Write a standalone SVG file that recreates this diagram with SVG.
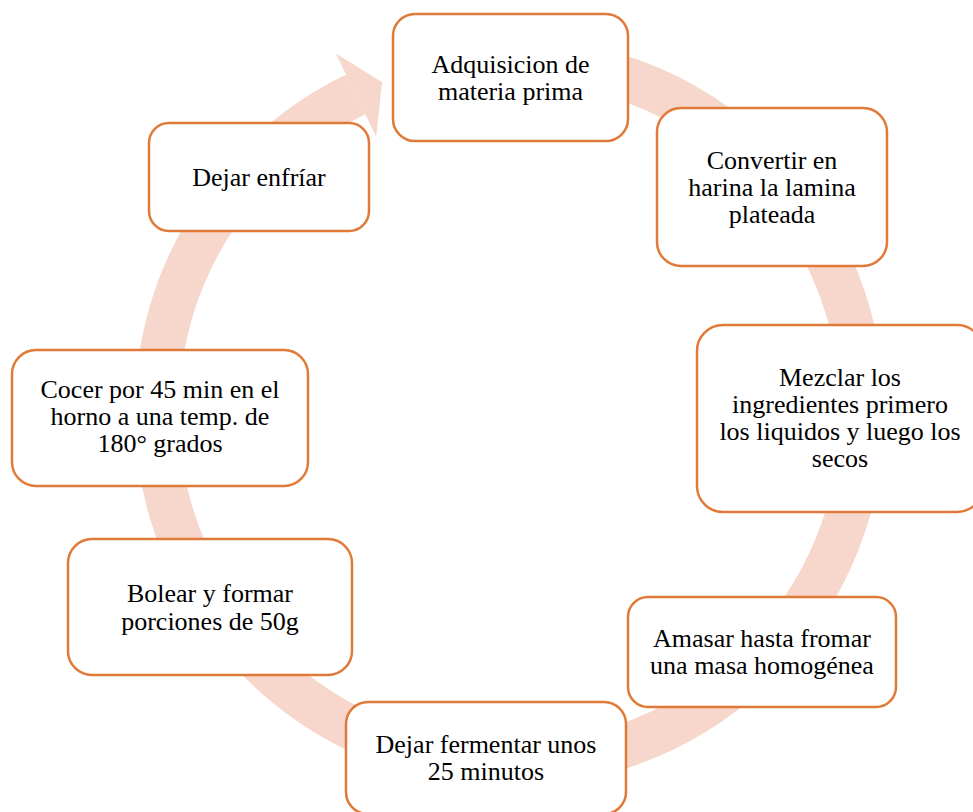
<svg xmlns="http://www.w3.org/2000/svg" width="973" height="812" viewBox="0 0 973 812">
<style>
.box{fill:#ffffff;stroke:#E07A38;stroke-width:2.5}
.t{font-family:"Liberation Serif","Times New Roman",serif;font-size:26px;fill:#000000;text-anchor:middle}
.ring{fill:none;stroke:#F7D7CB;stroke-width:44;stroke-linecap:butt}
</style>
<rect width="973" height="812" fill="#ffffff"/>
<g id="connectors">
<path class="ring" d="M 448.7 64.4 A 353 353 0 1 1 355.8 94.4"/>
<polygon points="335.9,53.6 382.1,82.3 376.1,136.4" fill="#F7D7CB"/>
</g>
<g id="n1"><rect class="box" x="393" y="14" width="235" height="127" rx="22"/>
<text class="t" x="510.5" y="73">Adquisicion de</text><text class="t" x="510.5" y="100">materia prima</text></g>
<g id="n2"><rect class="box" x="657" y="108" width="230" height="158" rx="24"/>
<text class="t" x="772" y="169">Convertir en</text><text class="t" x="772" y="196">harina la lamina</text><text class="t" x="772" y="223">plateada</text></g>
<g id="n3"><rect class="box" x="697" y="325" width="286" height="187" rx="26"/>
<text class="t" x="840" y="386">Mezclar los</text><text class="t" x="840" y="413">ingredientes primero</text><text class="t" x="840" y="440">los liquidos y luego los</text><text class="t" x="840" y="467">secos</text></g>
<g id="n4"><rect class="box" x="628" y="597" width="268" height="110" rx="20"/>
<text class="t" x="762" y="647">Amasar hasta fromar</text><text class="t" x="762" y="674">una masa homogénea</text></g>
<g id="n5"><rect class="box" x="346" y="702" width="280" height="112" rx="22"/>
<text class="t" x="486" y="753">Dejar fermentar unos</text><text class="t" x="486" y="780">25 minutos</text></g>
<g id="n6"><rect class="box" x="68" y="539" width="284" height="136" rx="24"/>
<text class="t" x="210" y="602">Bolear y formar</text><text class="t" x="210" y="630">porciones de 50g</text></g>
<g id="n7"><rect class="box" x="12" y="350" width="296" height="136" rx="24"/>
<text class="t" x="160" y="398">Cocer por 45 min en el</text><text class="t" x="160" y="425">horno a una temp. de</text><text class="t" x="160" y="452">180° grados</text></g>
<g id="n8"><rect class="box" x="149" y="123" width="220" height="108" rx="20"/>
<text class="t" x="259" y="186">Dejar enfríar</text></g>
</svg>
